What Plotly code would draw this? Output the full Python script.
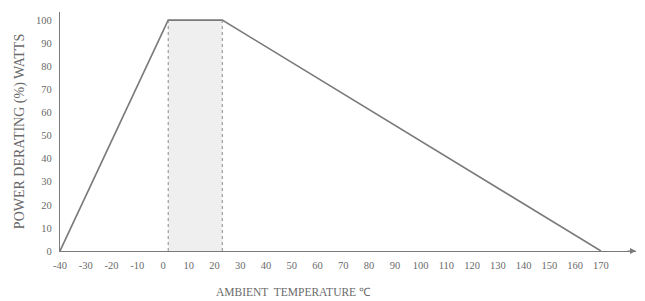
import plotly.graph_objects as go

# Data
temps = [-40, 2, 23, 170]          # ambient temperature, deg C
power = [0, 100, 100, 0]           # power derating, %
band_start = 2
band_end = 23
x_ticks = list(range(-40, 171, 10))
y_ticks = list(range(0, 101, 10))

x_max = 183.6
y_max = 103.5
font_color = "#6a6a6a"
line_color = "#7a7a7a"
serif = "Liberation Serif, Times New Roman, serif"

fig = go.Figure()

fig.add_trace(go.Scatter(
    x=temps, y=power, mode="lines",
    line=dict(color=line_color, width=1.6),
    showlegend=False, hoverinfo="skip", cliponaxis=False,
))

# shaded operating band
fig.add_shape(type="rect", xref="x", yref="y",
              x0=band_start, x1=band_end, y0=0, y1=100,
              fillcolor="#efefef", line=dict(width=0), layer="below")
for xv in (band_start, band_end):
    fig.add_shape(type="line", xref="x", yref="y",
                  x0=xv, x1=xv, y0=0, y1=100,
                  line=dict(color="#8a8a8a", width=1, dash="dot"))

# arrow at the end of the x axis
fig.add_annotation(x=x_max, y=0, xref="x", yref="y",
                   ax=-10, ay=0,
                   showarrow=True, arrowhead=2, arrowsize=1, arrowwidth=1.2,
                   arrowcolor=line_color, text="")

# x axis title (offset to the left as in the original)
fig.add_annotation(x=0.405, y=-0.14, xref="paper", yref="paper",
                   text="AMBIENT  TEMPERATURE ℃", showarrow=False,
                   xanchor="center", yanchor="top",
                   font=dict(family=serif, size=11.5, color=font_color))

fig.update_xaxes(range=[-40, x_max], tickvals=x_ticks,
                 ticktext=[str(t) for t in x_ticks],
                 showgrid=False, zeroline=False, automargin=False,
                 showline=True, linecolor=line_color, linewidth=1.4,
                 ticks="", ticklabelstandoff=4,
                 tickfont=dict(family=serif, size=10.5, color=font_color))
fig.update_yaxes(range=[0, y_max], tickvals=y_ticks,
                 showgrid=False, zeroline=False, automargin=False,
                 showline=True, linecolor=line_color, linewidth=1.4,
                 ticks="", ticklabelstandoff=5,
                 tickfont=dict(family=serif, size=10.5, color=font_color),
                 title=dict(text="POWER DERATING (%) WATTS",
                            font=dict(family=serif, size=14, color=font_color),
                            standoff=8))

fig.update_layout(
    width=645, height=301,
    margin=dict(l=60, r=9, t=12, b=50),
    paper_bgcolor="white", plot_bgcolor="white",
)

fig.write_html("out.html", config={"displayModeBar": False},
               post_script="document.body.style.margin='0';document.body.style.overflow='hidden';")
